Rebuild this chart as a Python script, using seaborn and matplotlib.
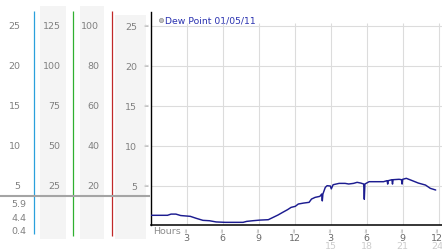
import matplotlib
matplotlib.use("Agg")
import matplotlib.pyplot as plt
import matplotlib.transforms as mtransforms
import seaborn as sns
import pandas as pd

# ---------------- data ----------------
hours = [0.0, 1.4, 1.7, 2.1, 2.5, 3.3, 3.8, 4.35, 4.9, 5.45, 6.2, 7.7, 8.0, 8.5,
         9.1, 9.8, 10.2, 10.6, 11.0, 11.4, 11.7, 12.05, 12.3, 12.75, 13.2, 13.4,
         13.7, 14.1, 14.25, 14.3, 14.35, 14.55, 14.7, 14.97, 15.05, 15.2, 15.7,
         16.2, 16.5, 16.9, 17.2, 17.5, 17.75, 17.8, 17.85, 18.2, 19.4, 19.7,
         19.75, 19.8, 20.1, 20.15, 20.2, 20.7, 20.9, 20.95, 21.0, 21.3, 21.8,
         22.3, 22.9, 23.3, 23.75]
dew_point = [1.3, 1.3, 1.45, 1.45, 1.27, 1.17, 0.92, 0.67, 0.62, 0.47, 0.42, 0.42,
             0.54, 0.62, 0.7, 0.75, 1.04, 1.33, 1.67, 2.0, 2.29, 2.42, 2.71, 2.83,
             2.92, 3.33, 3.54, 3.67, 3.96, 3.1, 3.96, 4.79, 5.0, 4.96, 4.6, 5.12,
             5.29, 5.29, 5.21, 5.29, 5.42, 5.33, 5.21, 3.3, 5.21, 5.5, 5.5, 5.63,
             5.2, 5.63, 5.75, 5.2, 5.75, 5.8, 5.75, 5.2, 5.8, 5.92, 5.63, 5.33,
             5.08, 4.67, 4.46]

y_ticks = [5, 10, 15, 20, 25]
y_labels_col1 = ["5", "10", "15", "20", "25"]
y_labels_col2 = ["25", "50", "75", "100", "125"]
y_labels_col3 = ["20", "40", "60", "80", "100"]
y_labels_main = ["5", "10", "15", "20", "25"]
x_ticks = [3, 6, 9, 12, 15, 18, 21, 24]
x_labels_12h = ["3", "6", "9", "12", "3", "6", "9", "12"]
x_labels_24h = ["", "", "", "", "15", "18", "21", "24"]
stats_labels = ["5.9", "4.4", "0.4"]   # high, current, low
legend_label = "Dew Point 01/05/11"

# ---------------- style ----------------
sns.set_style("white")
plt.rcParams["font.family"] = ["DejaVu Sans"]
FS = 6.8
W, H = 442, 253

fig = plt.figure(figsize=(W / 100, H / 100), dpi=100, facecolor="white")

# background canvas in pixel coordinates for the side panel decorations
bg = fig.add_axes([0, 0, 1, 1], zorder=0)
bg.set_xlim(0, W)
bg.set_ylim(H, 0)
bg.axis("off")

# main axes
AX_L, AX_R, AX_T, AX_B = 150.7, 442.0, 13.0, 225.5
ax = fig.add_axes([AX_L / W, (H - AX_B) / H, (AX_R - AX_L) / W, (AX_B - AX_T) / H], zorder=1)
ax.set_facecolor("none")
Y0, Y1 = 0.15, 26.71
ax.set_ylim(Y0, Y1)
ax.set_xlim(0, (AX_R - AX_L) / 12.0)

# shaded bands / colored separator lines in the left panel
band_c = "#f4f4f4"
bg.fill_between([40, 65.7], 7, 240, color=band_c, lw=0)
bg.fill_between([80, 104], 7, 240, color=band_c, lw=0)
bg.fill_between([115, 146], 16, 240, color=band_c, lw=0)
for xx, y2, c in [(33.5, 235, "#2aa0dc"), (72.5, 237, "#30b030"), (111.5, 237, "#c02828")]:
    bg.plot([xx, xx], [12, y2], color=c, lw=0.9, snap=True, solid_capstyle="butt")
bg.plot([0, 150], [197, 197], color="#a4a4a4", lw=1.5, solid_capstyle="butt", snap=True)

# grid
ax.set_yticks(y_ticks)
ax.set_yticklabels(y_labels_main)
ax.grid(axis="y", color="#dcdcdc", lw=0.8)
ax.vlines(x_ticks, Y0, 25.33, color="#dcdcdc", lw=0.8, zorder=0.5)

# data line
df = pd.DataFrame({"hour": hours, "dew": dew_point})
sns.lineplot(data=df, x="hour", y="dew", ax=ax, color="#1c1c90", lw=1.05, zorder=3)
ax.set_xlabel("")
ax.set_ylabel("")

# spines
for s in ["top", "right"]:
    ax.spines[s].set_visible(False)
ax.spines["left"].set_color("black")
ax.spines["left"].set_linewidth(1.0)
ax.spines["bottom"].set_color("black")
ax.spines["bottom"].set_linewidth(1.1)

# ticks
ax.tick_params(axis="y", length=0, pad=9.6, labelsize=FS, labelcolor="#808080")
ax.set_xticks([])

# side-panel column labels (y from main data scale, x from pixel canvas)
tr_y = mtransforms.blended_transform_factory(bg.transData, ax.transData)
for cx, labels in [(20.7, y_labels_col1), (60.7, y_labels_col2), (99.3, y_labels_col3)]:
    for v, t in zip(y_ticks, labels):
        bg.text(cx, v, t, transform=tr_y, ha="right", va="center", fontsize=FS, color="#808080")
for v in y_ticks:
    bg.text(145.7, v, "\u2248", transform=tr_y, ha="center", va="center", fontsize=4.5, color="#a0a0a0")

# x tick marks, 12h labels and 24h row
tr_x = mtransforms.blended_transform_factory(ax.transData, bg.transData)
for i, (xv, t12, t24) in enumerate(zip(x_ticks, x_labels_12h, x_labels_24h)):
    last = i == len(x_ticks) - 1
    xx = 23.85 if last else xv
    bg.text(xv if not last else 23.9, 230.8, "\u2248", transform=tr_x, ha="center", va="center",
            fontsize=4.5, color="#a0a0a0", rotation=90)
    bg.text(xx, 238.3, t12, transform=tr_x, ha="center", va="center", fontsize=FS, color="#6a6a6a")
    if t24:
        bg.text(xx, 246.7, t24, transform=tr_x, ha="center", va="center", fontsize=FS, color="#cccccc")

bg.text(166.7, 231.7, "Hours", ha="center", va="center", fontsize=FS, color="#8c8c8c")

# stats under the panel
for yy, t in zip([205, 219, 232], stats_labels):
    bg.text(26.7, yy, t, ha="right", va="center", fontsize=FS, color="#808080")

# legend
bg.scatter([160.5], [20.7], s=9, color="#c0c0c0", edgecolor="#909090", linewidths=0.5, zorder=5)
bg.text(165, 20.7, legend_label, ha="left", va="center", fontsize=6.7, color="#2a32b0")

fig.savefig("out.png", dpi=100, facecolor="white")
